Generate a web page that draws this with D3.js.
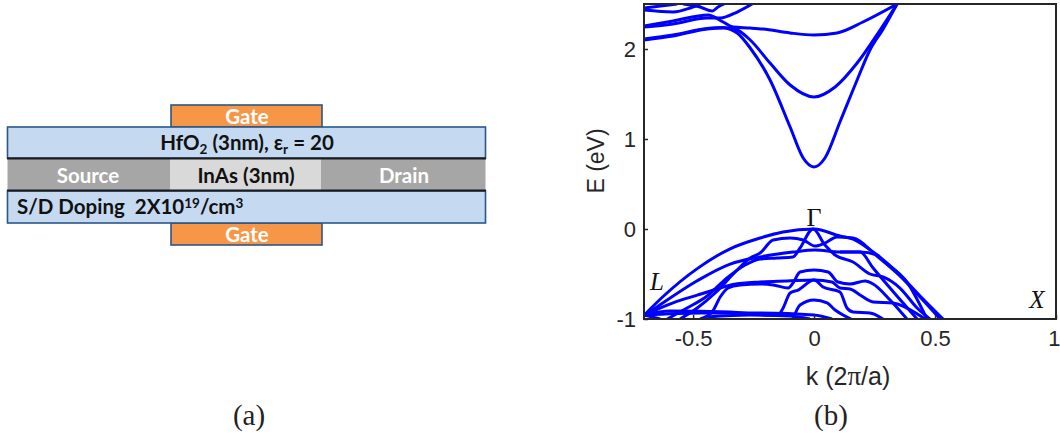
<!DOCTYPE html>
<html>
<head>
<meta charset="utf-8">
<script src="https://cdnjs.cloudflare.com/ajax/libs/d3/7.8.5/d3.min.js"></script>
<style>
  body { margin: 0; background: #fff; }
  svg { display: block; }
</style>
</head>
<body>
<div id="chart"></div>
<script>
// values: k (2pi/a), E (eV)
const cond1K = [-0.702,-0.583,-0.442,-0.376,-0.318,-0.264,-0.182,-0.099,-0.045,0,0.045,0.107,0.178,0.231,0.285,0.343];
const cond1E = [2.10,2.144,2.222,2.233,2.178,2.011,1.656,1.133,0.789,0.689,0.789,1.189,1.656,1.989,2.22,2.5];
const cond2K = [-0.702,-0.583,-0.442,-0.376,-0.318,-0.264,-0.182,-0.099,0,0.087,0.178,0.273,0.343];
const cond2E = [2.111,2.156,2.228,2.239,2.211,2.10,1.844,1.60,1.467,1.578,1.844,2.211,2.5];
const cond3K = [-0.702,-0.583,-0.438,-0.376,-0.335,-0.264,-0.211,-0.099,0,0.095,0.202,0.343];
const cond3E = [2.256,2.311,2.378,2.30,2.244,2.233,2.222,2.178,2.156,2.178,2.30,2.5];
const cond4K = [-0.702,-0.583,-0.442,-0.388,-0.318,-0.256];
const cond4E = [2.244,2.278,2.344,2.344,2.411,2.5];
const cond5K = [-0.702,-0.583,-0.512,-0.471];
const cond5E = [2.433,2.411,2.456,2.5];
const cond6K = [-0.541,-0.471,-0.421,-0.397,-0.372];
const cond6E = [2.5,2.467,2.422,2.467,2.5];
const cond7K = [-0.702,-0.566];
const cond7E = [2.456,2.5];

const valAK = [-0.702,-0.624,-0.483,-0.347,-0.223,-0.128,0,0.107,0.161,0.244,0.343,0.438,0.533];
const valAE = [-0.956,-0.75,-0.44,-0.22,-0.10,-0.033,0,-0.078,-0.111,-0.256,-0.478,-0.744,-1];
const valBK = [-0.554,-0.483,-0.409,-0.326,-0.264,-0.223,-0.169,-0.099,-0.045,0.004,0.045,0.095,0.161,0.26,0.355,0.438,0.521];
const valBE = [-1,-0.878,-0.711,-0.478,-0.322,-0.267,-0.122,-0.10,-0.122,-0.189,-0.156,-0.089,-0.10,-0.30,-0.522,-0.756,-1];
const valCK = [-0.607,-0.525,-0.442,-0.36,-0.285,-0.223,-0.153,-0.087,-0.058,-0.004,0.045,0.087,0.161,0.231,0.285,0.355,0.426,0.479];
const valCE = [-1,-0.878,-0.744,-0.544,-0.40,-0.333,-0.322,-0.311,-0.211,0,-0.178,-0.289,-0.367,-0.50,-0.533,-0.656,-0.878,-1];
const valDK = [-0.702,-0.624,-0.483,-0.347,-0.223,-0.087,0.004,0.107,0.19,0.244,0.314,0.426];
const valDE = [-0.967,-0.82,-0.575,-0.39,-0.31,-0.256,-0.233,-0.256,-0.256,-0.433,-0.656,-1];
const valEK = [0.107,0.19,0.26,0.293,0.384,0.467];
const valEE = [-0.256,-0.256,-0.289,-0.367,-0.589,-1];
const valFK = [-0.471,-0.421,-0.388,-0.355,-0.306,-0.223,-0.169,-0.107,-0.087,-0.058,0,0.058,0.099,0.149,0.211,0.244,0.314,0.384];
const valFE = [-1,-0.922,-0.756,-0.656,-0.622,-0.611,-0.622,-0.656,-0.60,-0.478,-0.456,-0.478,-0.589,-0.611,-0.578,-0.611,-0.789,-1];
const valGK = [-0.702,-0.583,-0.483,-0.401,-0.335,-0.223,-0.112,0,0.074,0.107,0.149,0.19,0.244,0.326,0.384,0.459];
const valGE = [-0.956,-0.82,-0.735,-0.667,-0.617,-0.589,-0.578,-0.567,-0.589,-0.656,-0.667,-0.733,-0.811,-0.822,-0.878,-1];
const valHK = [-0.702,-0.595,-0.347,-0.182,-0.149,-0.128,-0.099,-0.066,0,0.037,0.107,0.136,0.161,0.231,0.285];
const valHE = [-0.956,-0.911,-0.922,-0.956,-0.956,-0.878,-0.711,-0.678,-0.567,-0.644,-0.70,-0.878,-0.922,-0.933,-1];
const valIK = [-0.087,-0.058,0,0.054,0.087,0.12,0.153];
const valIE = [-1,-0.844,-0.789,-0.822,-0.90,-0.956,-1];
const valJK = [-0.702,-0.471,-0.223,0,0.074];
const valJE = [-0.956,-0.933,-0.933,-0.956,-1];
const valLK = [-0.442,-0.264,-0.099,-0.017];
const valLE = [-0.978,-0.956,-0.967,-1];
const valMK = [-0.702,-0.636];
const valME = [-0.956,-1];

const xTicks = [-0.5, 0, 0.5, 1];
const yTicks = [-1, 0, 1, 2];

const bands = [
  [cond1K, cond1E], [cond2K, cond2E], [cond3K, cond3E], [cond4K, cond4E],
  [cond5K, cond5E], [cond6K, cond6E], [cond7K, cond7E],
  [valAK, valAE], [valBK, valBE], [valCK, valCE], [valDK, valDE], [valEK, valEE],
  [valFK, valFE], [valGK, valGE], [valHK, valHE], [valIK, valIE], [valJK, valJE],
  [valLK, valLE], [valMK, valME]
].map(([k, e]) => k.map((v, i) => [v, e[i]]));

let width = 1060;
let height = 436;
let margin = ({ top: 4, bottom: 117, left: 644, right: 4 });

let svg = d3.select("#chart")
  .append("svg")
  .attr("width", width)
  .attr("height", height)
  .attr("viewBox", [0, 0, width, height]);

// ---- panel (a): device stack ----
let blue = "#c5d9f1", edge = "#2a5788", orange = "#f79646";
let rects = [
  { x: 171, y: 105, w: 151, h: 22, fill: orange, stroke: edge },
  { x: 171, y: 223, w: 151, h: 22, fill: orange, stroke: edge },
  { x: 7.5, y: 127, w: 478, h: 31, fill: blue, stroke: edge },
  { x: 7.5, y: 191, w: 478, h: 32, fill: blue, stroke: edge },
  { x: 7.5, y: 158, w: 478, h: 33, fill: "#a6a6a6", stroke: "none" },
  { x: 170, y: 159, w: 151, h: 31, fill: "#d9d9d9", stroke: "none" }
];
let device = svg.append("g");
device.selectAll("rect")
  .data(rects)
  .join("rect")
  .attr("x", d => d.x).attr("y", d => d.y)
  .attr("width", d => d.w).attr("height", d => d.h)
  .attr("fill", d => d.fill)
  .attr("stroke", d => d.stroke)
  .attr("stroke-width", 1.6);
device.selectAll("line")
  .data([158.5, 190.5])
  .join("line")
  .attr("x1", 7).attr("x2", 486)
  .attr("y1", d => d).attr("y2", d => d)
  .attr("stroke", "#1a1a1a")
  .attr("stroke-width", 2);

let labels = [
  { t: "Gate", x: 247, y: 123.5, c: "#fff" },
  { t: "Gate", x: 247, y: 241.5, c: "#fff" },
  { t: "Source", x: 88, y: 183, c: "#fff" },
  { t: "Drain", x: 404, y: 183, c: "#fff" },
  { t: "InAs (3nm)", x: 246, y: 183, c: "#111" }
];
let calibri = "Lato, 'Open Sans', sans-serif";
device.selectAll("text.lab")
  .data(labels)
  .join("text")
  .attr("class", "lab")
  .attr("x", d => d.x).attr("y", d => d.y)
  .attr("text-anchor", "middle")
  .attr("font-family", calibri)
  .attr("font-weight", 700)
  .attr("font-size", 20.5)
  .attr("fill", d => d.c)
  .text(d => d.t);

// runs of text with sub/superscripts
function rich(x, y, anchor, runs) {
  let t = device.append("text")
    .attr("x", x).attr("y", y)
    .attr("text-anchor", anchor)
    .attr("font-family", calibri)
    .attr("font-weight", 700)
    .attr("font-size", 20.5)
    .attr("fill", "#111");
  let back = 0;
  runs.forEach(([s, shift]) => {
    let sp = t.append("tspan").text(s);
    if (shift) { sp.attr("font-size", 13.5).attr("dy", shift); back = -shift; }
    else if (back) { sp.attr("dy", back); back = 0; }
  });
}
rich(247, 150, "middle", [["HfO"], ["2", 4], ["\u00a0(3nm), ε"], ["r", 4], ["\u00a0=\u00a020"]]);
rich(17, 214, "start", [["S/D Doping\u00a0\u00a02X10"], ["19", -6], ["/cm"], ["3", -6]]);

// ---- panel (b): band structure ----
let xScale = d3.scaleLinear().domain([-0.703, 1]).range([margin.left, width - margin.right]);
let yScale = d3.scaleLinear().domain([-1, 2.5]).range([height - margin.bottom, margin.top]);

svg.append("clipPath").attr("id", "plot")
  .append("rect")
  .attr("x", margin.left).attr("y", margin.top)
  .attr("width", width - margin.right - margin.left)
  .attr("height", height - margin.bottom - margin.top);

let line = d3.line()
  .curve(d3.curveMonotoneX)
  .x(d => xScale(d[0]))
  .y(d => yScale(d[1]));

svg.append("g")
  .attr("clip-path", "url(#plot)")
  .selectAll("path")
  .data(bands)
  .join("path")
  .attr("fill", "none")
  .attr("stroke", "#0000ff")
  .attr("stroke-width", 3)
  .attr("stroke-linejoin", "round")
  .attr("d", line);

let axisColor = "#262626", axisFont = "'Liberation Sans', Arial, sans-serif";
let xAxis = svg.append("g")
  .attr("transform", `translate(0,${height - margin.bottom})`)
  .call(d3.axisBottom(xScale).tickValues(xTicks).tickSize(-4).tickPadding(11).tickFormat(d => String(d)));
let yAxis = svg.append("g")
  .attr("transform", `translate(${margin.left},0)`)
  .call(d3.axisLeft(yScale).tickValues(yTicks).tickSize(-4).tickPadding(8).tickFormat(d => String(d)));
[xAxis, yAxis].forEach(a => {
  a.select(".domain").remove();
  a.selectAll(".tick line").attr("stroke", axisColor).attr("stroke-width", 1.5);
  a.selectAll("text").attr("fill", axisColor).attr("font-family", axisFont).attr("font-size", 22);
});
// the last label sits against the right edge of the page
xAxis.select(".tick:last-of-type text").attr("text-anchor", "end").attr("x", 4);

svg.append("rect")
  .attr("x", margin.left).attr("y", margin.top)
  .attr("width", width - margin.right - margin.left)
  .attr("height", height - margin.bottom - margin.top)
  .attr("fill", "none")
  .attr("stroke", axisColor)
  .attr("stroke-width", 2);

svg.append("text")
  .attr("transform", "translate(604,161) rotate(-90)")
  .attr("text-anchor", "middle")
  .attr("font-family", axisFont)
  .attr("font-size", 23)
  .attr("fill", axisColor)
  .text("E (eV)");

let xLabel = svg.append("text")
  .attr("x", 848).attr("y", 385)
  .attr("text-anchor", "middle")
  .attr("font-family", axisFont)
  .attr("font-size", 25)
  .attr("fill", axisColor);
xLabel.append("tspan").text("k (2");
xLabel.append("tspan").attr("font-family", "'Liberation Serif', serif").attr("font-size", 27).text("π");
xLabel.append("tspan").text("/a)");

let serif = "'Liberation Serif', 'DejaVu Serif', serif";
svg.selectAll("text.note")
  .data([
    { t: "Γ", x: 814, y: 226, s: "normal", z: 26 },
    { t: "L", x: 657, y: 290, s: "italic", z: 25 },
    { t: "X", x: 1037, y: 308, s: "italic", z: 25 }
  ])
  .join("text")
  .attr("class", "note")
  .attr("x", d => d.x).attr("y", d => d.y)
  .attr("text-anchor", "middle")
  .attr("font-family", serif)
  .attr("font-style", d => d.s)
  .attr("font-size", d => d.z)
  .attr("fill", "#111")
  .text(d => d.t);

svg.selectAll("text.caption")
  .data([{ t: "(a)", x: 249 }, { t: "(b)", x: 831 }])
  .join("text")
  .attr("class", "caption")
  .attr("x", d => d.x).attr("y", 425)
  .attr("text-anchor", "middle")
  .attr("font-family", serif)
  .attr("font-size", 29)
  .attr("fill", "#222")
  .text(d => d.t);
</script>
</body>
</html>
